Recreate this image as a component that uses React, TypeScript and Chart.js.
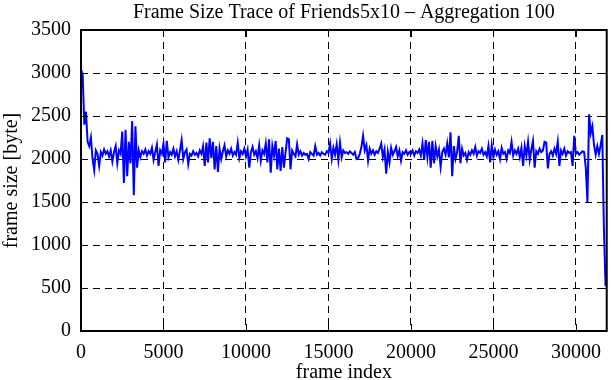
import React, { useEffect, useRef } from "react";
import { Chart, registerables } from "chart.js";

Chart.register(...registerables);

const TITLE = "Frame Size Trace of Friends5x10 \u2013 Aggregation 100";
const X_LABEL = "frame index";
const Y_LABEL = "frame size [byte]";
const AGGREGATION = 100;
const X_MAX = 31870;
const Y_MAX = 3500;
const xTickValues = [0, 5000, 10000, 15000, 20000, 25000, 30000];
const yTickValues = [0, 500, 1000, 1500, 2000, 2500, 3000, 3500];

// mean frame size per block of 100 frames
const frameSizes = [
  3040, 2980, 2400, 2550, 2200, 2150, 2250, 2000, 1870, 2100,
  2060, 1920, 2080, 2040, 2110, 2060, 2090, 2030, 2100, 1970,
  2080, 2150, 1950, 2100, 2060, 2320, 1720, 2340, 1800, 2200,
  1950, 2440, 1580, 2380, 1900, 2100, 2020, 2090, 2060, 2110,
  2040, 2090, 2060, 2130, 1990, 2080, 2170, 1920, 2100, 2060,
  2180, 1960, 2210, 2020, 2080, 2050, 2120, 2030, 2090, 1990,
  2100, 2220, 2000, 2080, 2110, 1940, 2060, 2040, 2090, 2050,
  2070, 2030, 2100, 2060, 2150, 1920, 2190, 1960, 2240, 2010,
  2200, 1880, 2150, 1850, 2120, 2000, 2090, 2160, 2030, 2100,
  2060, 2120, 2040, 2080, 2050, 2190, 2010, 2090, 2060, 2120,
  2030, 2110, 1900, 2080, 2140, 2050, 2090, 2010, 2160, 1980,
  2100, 2060, 2180, 1960, 2230, 1840, 2150, 2040, 2210, 1880,
  2120, 1860, 2140, 1900, 2080, 2240, 2230, 1880, 2100, 2060,
  2030, 2170, 2050, 2090, 2040, 2070, 2050, 2060, 2000, 2080,
  2060, 2040, 2150, 2050, 2070, 2040, 2080, 2060, 2050, 2090,
  2070, 2180, 2000, 2130, 2050, 2170, 1990, 2190, 2020, 2100,
  2070, 2080, 2060, 2090, 2070, 2050, 2080, 2000, 2010, 2060,
  2140, 2270, 2100, 2160, 1980, 2120, 2060, 2100, 2050, 2090,
  2070, 2120, 2180, 2020, 2110, 1830, 2080, 1960, 2130, 2050,
  2090, 2140, 2030, 2100, 1980, 2080, 2060, 2100, 2050, 2080,
  2060, 2100, 2040, 2090, 2070, 2110, 2040, 2180, 1990, 2220,
  2020, 2200, 1900, 2210, 1950, 2150, 2030, 2110, 1910, 2080,
  2120, 2050, 2180, 2020, 2310, 1800, 2150, 2000, 2080, 2270,
  1950, 2120, 2040, 2070, 1990, 2080, 2050, 2100, 2060, 2140,
  2040, 2090, 2070, 2120, 2050, 2080, 2030, 2150, 1960, 2160,
  2020, 2110, 2050, 2090, 2000, 2130, 2060, 2080, 2000, 2100,
  2070, 2200, 2040, 2100, 2060, 2120, 2020, 2130, 1920, 2150,
  2040, 2200, 1990, 2110, 2210, 1900, 2090, 2060, 2120, 2080,
  2100, 2200, 2190, 1890, 2060, 2090, 2040, 2120, 2060, 2200,
  1920, 2100, 2060, 2120, 2040, 2090, 2070, 2080, 1920, 2270,
  2060, 2080, 2050, 2070, 2090, 2080, 1900, 1500, 2520, 2300,
  2380, 2160, 2050, 2150, 2060, 2160, 2280, 1180, 520,
];

const FONT = '"Liberation Serif", "Times New Roman", serif';
const FONT_SIZE = 20;

const framePlugin = {
  id: "gnuplotFrame",
  afterDraw(chart: any) {
    const { ctx, chartArea } = chart;
    const { left, right, top, bottom } = chartArea;
    const xs = chart.scales.x;
    const ys = chart.scales.y;
    ctx.save();
    ctx.strokeStyle = "#000";
    ctx.lineWidth = 1;
    ctx.setLineDash([]);
    const tick = 7;
    ctx.beginPath();
    xTickValues.forEach((v) => {
      const px = Math.round(xs.getPixelForValue(v)) + 0.5;
      ctx.moveTo(px, bottom);
      ctx.lineTo(px, bottom - tick);
      ctx.moveTo(px, top);
      ctx.lineTo(px, top + tick);
    });
    yTickValues.forEach((v) => {
      const py = Math.round(ys.getPixelForValue(v)) + 0.5;
      ctx.moveTo(left, py);
      ctx.lineTo(left + tick, py);
      ctx.moveTo(right, py);
      ctx.lineTo(right - tick, py);
    });
    ctx.stroke();
    ctx.lineWidth = 2;
    ctx.strokeRect(left, top, right - left, bottom - top);
    ctx.fillStyle = "#000";
    ctx.font = `${FONT_SIZE}px ${FONT}`;
    ctx.textAlign = "center";
    ctx.textBaseline = "alphabetic";
    ctx.fillText(TITLE, (left + right) / 2, 18);
    ctx.restore();
  },
};

export default function App() {
  const ref = useRef<HTMLCanvasElement | null>(null);
  useEffect(() => {
    if (!ref.current) return;
    const points = frameSizes.map((v, i) => ({ x: i * AGGREGATION, y: v }));
    const chart = new Chart(ref.current, {
      type: "line",
      data: {
        datasets: [
          {
            data: points,
            borderColor: "#0000ff",
            borderWidth: 2,
            pointRadius: 0,
            tension: 0,
            fill: false,
          },
        ],
      },
      options: {
        animation: false,
        responsive: false,
        maintainAspectRatio: false,
        layout: { padding: { top: 30, right: 2, left: 0, bottom: 0 } },
        plugins: {
          legend: { display: false },
          title: { display: false },
          tooltip: { enabled: false },
        },
        scales: {
          x: {
            type: "linear",
            min: 0,
            max: X_MAX,
            afterFit: (s: any) => {
              s.height = 49;
            },
            afterBuildTicks: (s: any) => {
              s.ticks = xTickValues.map((v) => ({ value: v }));
            },
            ticks: {
              stepSize: 5000,
              includeBounds: false,
              autoSkip: false,
              maxRotation: 0,
              padding: 10,
              color: "#000",
              font: { family: FONT, size: FONT_SIZE },
              callback: (v: any) => String(v),
            },
            grid: { color: "#000", lineWidth: 1, drawTicks: false },
            border: { display: false, dash: [7, 5] },
            title: {
              display: true,
              text: X_LABEL,
              color: "#000",
              font: { family: FONT, size: FONT_SIZE },
              padding: { top: 0, bottom: -5 },
            },
          },
          y: {
            type: "linear",
            min: 0,
            max: Y_MAX,
            afterFit: (s: any) => {
              s.width = 81;
            },
            afterBuildTicks: (s: any) => {
              s.ticks = yTickValues.map((v) => ({ value: v }));
            },
            ticks: {
              stepSize: 500,
              padding: 10,
              color: "#000",
              font: { family: FONT, size: FONT_SIZE },
              callback: (v: any) => String(v),
            },
            grid: { color: "#000", lineWidth: 1, drawTicks: false },
            border: { display: false, dash: [7, 5] },
            title: {
              display: true,
              text: Y_LABEL,
              color: "#000",
              font: { family: FONT, size: FONT_SIZE },
              padding: { top: 0, bottom: 0 },
            },
          },
        },
      },
      plugins: [framePlugin],
    });
    return () => chart.destroy();
  }, []);
  return (
    <div style={{ position: "absolute", left: 0, top: 0, width: 611, height: 380, background: "#fff" }}>
      <canvas ref={ref} width={611} height={380} />
    </div>
  );
}
